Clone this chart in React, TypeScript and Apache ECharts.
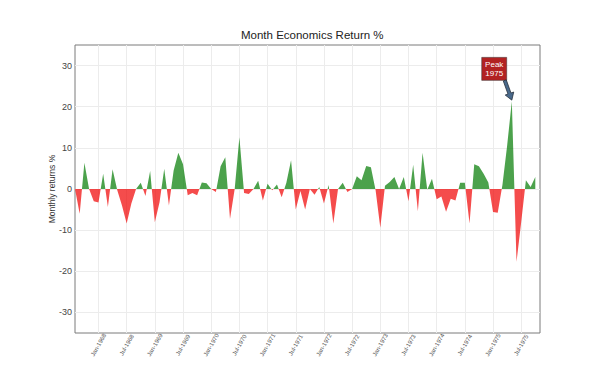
import React, { useEffect, useRef } from "react";
import * as echarts from "echarts";

// Monthly returns (%) for x = 1..99 (Jul-1967 index 0)
const returns: number[] = [
  0, -6.0, 6.4, 0, -3.0, -3.3, 3.7, -4.4, 4.8, -0.3,
  -4.0, -8.4, -3.5, 0, 1.5, -1.7, 4.4, -8.1, -3.2, 4.9,
  -4.0, 4.5, 8.8, 6.0, -1.5, -1.0, -1.5, 1.6, 1.4, 0,
  -0.7, 5.5, 7.7, -7.3, 0, 12.6, -1.0, -1.2, 0, 2.0,
  -2.8, 1.3, -0.3, 1.1, -2.0, 1.5, 7.0, -5.0, -0.5, -5.0,
  0, -1.4, 0.5, -3.5, 1.0, -8.4, 0, 1.5, -0.7, 0,
  3.1, 2.1, 5.6, 5.3, -0.3, -9.4, 0.8, 1.7, 2.9, 0,
  2.9, -3.0, 5.9, -5.4, 8.8, -0.2, 2.5, -2.5, -1.8, -5.5,
  -2.4, -2.8, 1.5, 1.5, -8.4, 6.0, 5.5, 3.7, 1.6, -5.6,
  -5.8, 1.0, 10.5, 21.3, -17.7, -8.0, 2.1, 0.5, 2.9,
];

const tickPositions: number[] = [6, 12, 18, 24, 30, 36, 42, 48, 54, 60, 66, 72, 78, 84, 90, 96];
const tickLabels: string[] = [
  "Jan-1968", "Jul-1968", "Jan-1969", "Jul-1969", "Jan-1970", "Jul-1970",
  "Jan-1971", "Jul-1971", "Jan-1972", "Jul-1972", "Jan-1973", "Jul-1973",
  "Jan-1974", "Jul-1974", "Jan-1975", "Jul-1975",
];
const yTicks: number[] = [-30, -20, -10, 0, 10, 20, 30];

const peakLabel = "Peak\n1975";
const peakBox: number[] = [90.25, 29.2];
const arrowFrom: number[] = [92.5, 26.4];
const arrowTo: number[] = [94.0, 21.6];

const FONT = "'Liberation Sans', Arial, sans-serif";

export default function App() {
  const ref = useRef<HTMLDivElement>(null);
  useEffect(() => {
    if (!ref.current) return;
    const chart = echarts.init(ref.current, undefined, { renderer: "svg" });
    const seriesData = returns.map((v, i) => [i + 1, v]);
    chart.setOption({
      animation: false,
      backgroundColor: "#ffffff",
      title: {
        text: "Month Economics Return %",
        left: 236,
        top: 24,
        textStyle: { fontFamily: FONT, fontSize: 11.5, fontWeight: "normal", color: "#222" },
      },
      grid: {
        left: 75,
        right: 60,
        top: 45,
        bottom: 42,
        show: true,
        borderColor: "#7a7a7a",
        borderWidth: 1,
        backgroundColor: "transparent",
      },
      visualMap: {
        type: "piecewise",
        show: false,
        seriesIndex: 0,
        dimension: 1,
        pieces: [
          { min: -100, max: 0, color: "#f00000" },
          { min: 0, max: 100, color: "#007a00" },
        ],
      },
      xAxis: {
        type: "value",
        min: 1,
        max: 100,
        axisLine: { show: false },
        axisTick: { show: false, customValues: tickPositions },
        splitLine: { show: true, lineStyle: { color: "#ececec", width: 1 } },
        axisLabel: {
          customValues: tickPositions,
          formatter: (v: number) => {
            const k = tickPositions.indexOf(Math.round(v));
            return k >= 0 ? tickLabels[k] : "";
          },
          rotate: 60,
          align: "center",
          verticalAlign: "middle",
          margin: 12,
          fontSize: 6,
          fontFamily: FONT,
          color: "#555",
        },
      },
      yAxis: {
        type: "value",
        min: -35,
        max: 35,
        name: "Monthly returns %",
        nameLocation: "middle",
        nameRotate: 90,
        nameGap: 19,
        nameMoveOverlap: false,
        nameTextStyle: { fontFamily: FONT, fontSize: 8.5, color: "#333" },
        axisLine: { show: false },
        axisTick: { show: false, customValues: yTicks },
        splitLine: { show: true, lineStyle: { color: "#ececec", width: 1 } },
        axisLabel: {
          customValues: yTicks,
          margin: 3,
          fontSize: 9,
          fontFamily: FONT,
          color: "#444",
        },
      },
      series: [
        {
          type: "line",
          data: seriesData,
          showSymbol: false,
          symbol: "none",
          lineStyle: { width: 0, opacity: 0 },
          areaStyle: { opacity: 0.7 },
          silent: true,
          z: 2,
        },
        {
          type: "line",
          data: [],
          silent: true,
          z: 5,
          markPoint: {
            silent: true,
            data: [
              {
                coord: peakBox,
                symbol: "rect",
                symbolSize: [25, 23],
                itemStyle: { color: "#b22222", borderColor: "#333", borderWidth: 0.5 },
                label: {
                  show: true,
                  position: "inside",
                  formatter: peakLabel,
                  color: "#ffffff",
                  fontSize: 8,
                  lineHeight: 9,
                  fontFamily: FONT,
                },
              },
            ],
          },
        },
      ],
    });

    // Arrow annotation positioned through the chart's own scales
    const s = chart.convertToPixel({ gridIndex: 0 }, arrowFrom) as number[];
    const e = chart.convertToPixel({ gridIndex: 0 }, arrowTo) as number[];
    if (s && e) {
      const dx = e[0] - s[0];
      const dy = e[1] - s[1];
      const len = Math.sqrt(dx * dx + dy * dy) || 1;
      const ux = dx / len;
      const uy = dy / len;
      const nx = -uy;
      const ny = ux;
      const headLen = 7;
      const shaft = 1.6;
      const head = 4.5;
      const hx = e[0] - ux * headLen;
      const hy = e[1] - uy * headLen;
      const pts = [
        [s[0] + nx * shaft, s[1] + ny * shaft],
        [hx + nx * shaft, hy + ny * shaft],
        [hx + nx * head, hy + ny * head],
        [e[0], e[1]],
        [hx - nx * head, hy - ny * head],
        [hx - nx * shaft, hy - ny * shaft],
        [s[0] - nx * shaft, s[1] - ny * shaft],
      ];
      chart.setOption({
        graphic: [
          {
            type: "polygon",
            z: 100,
            silent: true,
            shape: { points: pts },
            style: { fill: "#4a6a8c", stroke: "#26303c", lineWidth: 0.8 },
          },
        ],
      });
    }
    return () => chart.dispose();
  }, []);
  return (
    <div
      ref={ref}
      style={{ position: "absolute", left: 0, top: 0, width: 600, height: 375, background: "#fff" }}
    />
  );
}
